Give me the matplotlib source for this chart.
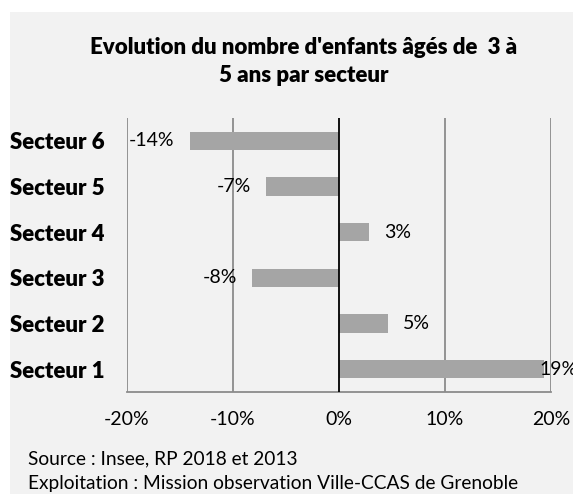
import matplotlib
matplotlib.use("Agg")
import matplotlib.pyplot as plt
from matplotlib.patches import Rectangle

categories = ["Secteur 1", "Secteur 2", "Secteur 3", "Secteur 4", "Secteur 5", "Secteur 6"]
values = [19.3, 4.6, -8.2, 2.8, -6.9, -14.1]
value_labels = ["19%", "5%", "-8%", "3%", "-7%", "-14%"]
xticks = [-20, -10, 0, 10, 20]
xtick_labels = ["-20%", "-10%", "0%", "10%", "20%"]
title = "Evolution du nombre d'enfants âgés de  3 à\n5 ans par secteur"
source_lines = ["Source : Insee, RP 2018 et 2013",
                "Exploitation : Mission observation Ville-CCAS de Grenoble"]

W, H = 573, 494
plt.rcParams['font.family'] = ['Lato', 'DejaVu Sans']
fig = plt.figure(figsize=(W / 100, H / 100), dpi=100)
fig.patch.set_facecolor("white")
bg = "#f2f2f2"
fig.patches.append(Rectangle((10 / W, 0), 1 - 10 / W, 1 - 12 / H, transform=fig.transFigure,
                             facecolor=bg, edgecolor="none", zorder=-10))

left, right, top, bottom = 127, 551, 118, 392
ax = fig.add_axes([left / W, 1 - bottom / H, (right - left) / W, (bottom - top) / H])
ax.set_facecolor(bg)

ypos = list(range(len(categories)))
ax.barh(ypos, values, height=0.4, color="#a5a5a5", zorder=2)
ax.set_xlim(-20, 20)
ax.set_ylim(-0.5, len(categories) - 0.5)

for x in xticks:
    if x == 0:
        ax.axvline(x, color="black", lw=1.3, zorder=3)
    else:
        ax.axvline(x, color="#8c8c8c", lw=1.3, zorder=1)

for s in ["top", "right", "left"]:
    ax.spines[s].set_visible(False)
ax.spines["bottom"].set_color("#8c8c8c")
ax.spines["bottom"].set_linewidth(1.3)

ax.set_xticks(xticks)
ax.set_xticklabels(xtick_labels, fontsize=14, color="black")
ax.tick_params(axis="x", length=0, pad=14)
ax.set_yticks(ypos)
ax.set_yticklabels(categories, fontsize=16, fontweight="heavy", color="black")
ax.tick_params(axis="y", length=0, pad=16)

for y, v, lab in zip(ypos, values, value_labels):
    if v >= 0:
        xv = min(v, 18.9)
        off = 11 if v < 18.9 else 0
        ax.annotate(lab, (xv, y), xytext=(off, 0), textcoords="offset points",
                    ha="left", va="center", fontsize=14, clip_on=False)
    else:
        ax.annotate(lab, (v, y), xytext=(-11, 0), textcoords="offset points",
                    ha="right", va="center", fontsize=14)

fig.text(304 / W, 1 - 61.5 / H, title, ha="center", va="center", fontsize=16,
         fontweight="heavy", linespacing=1.45)
fig.text(28 / W, 1 - 459 / H, source_lines[0], ha="left", va="center", fontsize=13.8)
fig.text(28 / W, 1 - 483 / H, source_lines[1], ha="left", va="center", fontsize=13.8)

fig.savefig("out.png", dpi=100, facecolor=fig.get_facecolor())
